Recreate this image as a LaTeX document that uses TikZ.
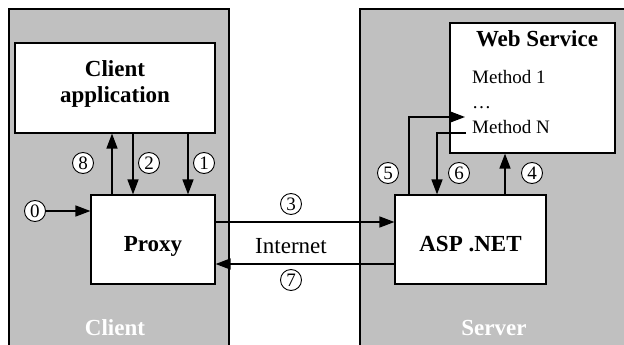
\documentclass[tikz,border=0pt]{standalone}
\usepackage{fontspec}
\setmainfont{Liberation Serif}
\usetikzlibrary{arrows.meta}
\definecolor{panelgray}{RGB}{192,192,192}
\newcommand{\stepnum}[3]{
	\node[numc] (#1) at (#2) {#3};
}

\begin{document}
\begin{tikzpicture}[x=1pt,y=-1pt,
	box/.style={draw, fill=white, line width=1.2pt, inner sep=0pt},
	boxtext/.style={font=\fontsize{23}{26}\selectfont\bfseries, align=center},
	numc/.style={draw, circle, fill=white, line width=0.9pt, minimum size=21pt, inner sep=0pt, font=\fontsize{19}{19}\selectfont},
	plain/.style={font=\fontsize{19}{19}\selectfont, inner sep=0pt},
	panellabel/.style={font=\fontsize{23}{23}\selectfont\bfseries, text=white, inner sep=0pt},
	arr/.style={line width=1.6pt, -{Triangle[length=15pt,width=11pt]}},
	line/.style={line width=1.6pt}]
	\useasboundingbox (0,0) rectangle (624,345);

	% panels
	\draw[fill=panelgray, line width=1.8pt] (9,350) -- (9,9) -- (229,9) -- (229,350);
	\draw[fill=panelgray, line width=1.8pt] (360,350) -- (360,9) -- (630,9) -- (630,350);
	\node[panellabel, anchor=base] (clientlbl) at (115,335) {Client};
	\node[panellabel, anchor=base] (serverlbl) at (494,335) {Server};

	% boxes
	\node[box, boxtext, minimum width=200pt, minimum height=90pt] (app) at (115,88) {Client\\application\rule[-13pt]{0pt}{13pt}};
	\node[box, boxtext, minimum width=124pt, minimum height=89pt, text height=23pt, text depth=0pt] (proxy) at (153,239.5) {Proxy};
	\node[box, boxtext, minimum width=151pt, minimum height=89pt, text height=23pt, text depth=0pt] (asp) at (470.5,239.5) {ASP .NET};
	\node[box, minimum width=165pt, minimum height=130pt] (ws) at (532.5,88) {};

	% web service content
	\node[boxtext, anchor=base, inner sep=0pt] (wstitle) at (537,47) {Web Service};
	\node[plain, anchor=base west] (m1) at (472,84) {Method 1};
	\node[plain, anchor=base west] (mdots) at (472,108) {\dots};
	\node[plain, anchor=base west] (mN) at (472,133) {Method N};
	\coordinate (in5) at (465,117);
	\coordinate (out6) at (466,133);

	% step numbers
	\stepnum{c0}{35,211}{0}
	\stepnum{c1}{204,163}{1}
	\stepnum{c2}{149,163}{2}
	\stepnum{c3}{291,204}{3}
	\stepnum{c4}{532,173}{4}
	\stepnum{c5}{388,173}{5}
	\stepnum{c6}{459,173}{6}
	\stepnum{c7}{291,280}{7}
	\stepnum{c8}{83,163}{8}

	\node[font=\fontsize{23}{23}\selectfont, anchor=base] (inet) at (291,253) {Internet};

	% connectors
	\draw[arr] (c0.east) -- (c0.east -| proxy.west);
	\draw[arr] ([xshift=73pt]app.south) -- ([xshift=35pt]proxy.north);
	\draw[arr] ([xshift=18pt]app.south) -- ([xshift=-20pt]proxy.north);
	\draw[arr] ([xshift=-41pt]proxy.north) -- ([xshift=-3pt]app.south);
	\draw[arr] ([yshift=17.5pt]proxy.east) -- ([yshift=17.5pt]asp.west);
	\draw[arr] ([yshift=-24.5pt]asp.west) -- ([yshift=-24.5pt]proxy.east);
	\draw[arr] ([xshift=34.5pt]asp.north) -- ([xshift=-27.5pt]ws.south);
	\draw[arr] ([xshift=-61.5pt]asp.north) |- (in5);
	\draw[arr] (out6) -| ([xshift=-33.5pt]asp.north);
\end{tikzpicture}
\end{document}
